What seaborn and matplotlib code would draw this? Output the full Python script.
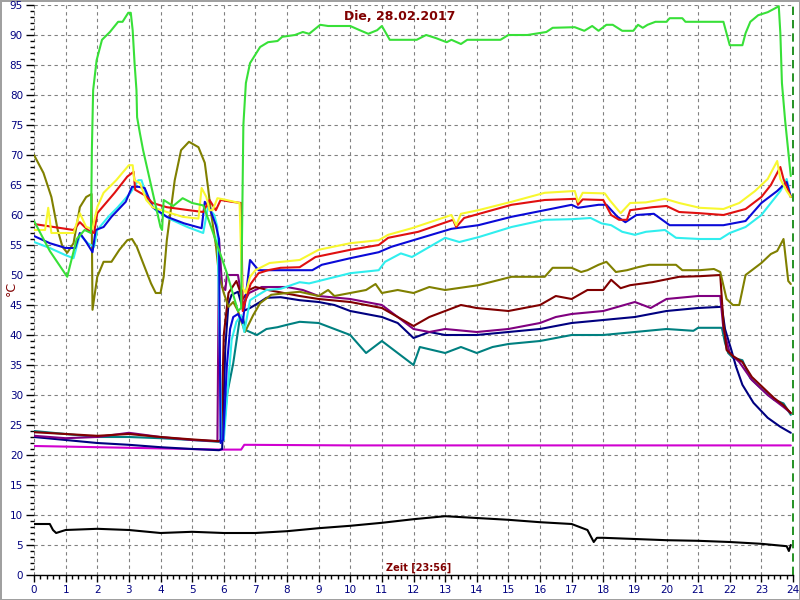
import pandas as pd
import matplotlib
matplotlib.use("Agg")
import matplotlib.pyplot as plt
import seaborn as sns
from matplotlib.ticker import MultipleLocator

# hour of day / temperature (deg C) per sensor
black_h = [0, 0.5, 0.6, 0.7, 1.0, 2.0, 3.0, 4.0, 5.0, 6.0, 7.0, 8.0, 9.0, 10.0, 11.0, 12.0, 13.0, 14.0, 15.0, 16.0,
           17.0, 17.5, 17.7, 17.8, 18.0, 19.0, 20.0, 21.0, 22.0, 23.0, 23.8, 23.87, 23.93]
black_t = [8.5, 8.5, 7.5, 7, 7.5, 7.7, 7.5, 7, 7.2, 7, 7, 7.3, 7.8, 8.2, 8.7, 9.3, 9.8, 9.5, 9.2, 8.8,
           8.5, 7.5, 5.5, 6.2, 6.2, 6, 5.8, 5.7, 5.5, 5.2, 4.8, 4, 5]

magenta_h = [0, 2, 4, 5.9, 6.55, 6.65, 10, 15, 20, 23.93]
magenta_t = [21.5, 21.3, 21.1, 20.9, 20.9, 21.7, 21.6, 21.6, 21.6, 21.6]

teal_h = [0, 1, 2, 3, 4, 5, 5.85, 5.98, 6.1, 6.3, 6.5, 6.6, 6.7, 6.83, 7.05, 7.35, 7.7, 8.0, 8.4, 9.0, 9.5, 10.0,
          10.5, 11.0, 11.5, 12.0, 12.2, 13.0, 13.5, 14.0, 14.5, 15.0, 16.0, 17.0, 18.0, 19.0, 20.0, 20.85, 21.0,
          21.75, 21.85, 21.95, 22.1, 22.4, 22.65, 23.05, 23.4, 23.7, 23.93]
teal_t = [24, 23.5, 23, 23, 22.8, 22.5, 22.2, 23, 30, 35.3, 42.5, 43, 40.8, 40.5, 40, 41, 41.3, 41.7, 42.2, 42, 41, 40,
          37, 39, 37, 35, 38, 37, 38, 37, 38, 38.5, 39, 40, 40, 40.5, 41, 40.7, 41.2,
          41.2, 38.7, 37, 36.2, 35.8, 32.8, 30.8, 29.2, 28.6, 26.7]

navy_h = [0, 1, 2, 3, 4, 5, 5.85, 5.95, 6.05, 6.15, 6.25, 6.45, 6.62, 6.83, 7.15, 7.35, 7.8, 8.4, 9.0, 9.5, 10.0,
          11.0, 11.5, 12.0, 12.5, 13.0, 14.0, 15.0, 16.0, 17.0, 18.0, 19.0, 20.0, 21.0, 21.75, 21.85, 22.05,
          22.2, 22.4, 22.75, 23.2, 23.6, 23.93]
navy_t = [23, 22.5, 22, 21.7, 21.3, 21, 20.8, 21, 38, 45.3, 46.7, 47.2, 44, 44.5, 45.5, 46.2, 46.3, 45.8, 45.5, 45, 44,
          43, 42, 39.5, 40.5, 40, 40, 40.5, 41, 42, 42.5, 43, 44, 44.5, 44.7, 41, 37.5,
          34.7, 31.7, 28.7, 26.2, 24.7, 23.7]

purple_h = [0, 1, 2, 3, 4, 5, 5.8, 5.85, 5.95, 6.05, 6.1, 6.45, 6.6, 6.8, 7.2, 8.0, 8.5, 9.0, 10.0, 11.0, 11.5,
            12.0, 12.5, 13.0, 14.0, 15.0, 16.0, 16.5, 17.0, 18.0, 19.0, 19.5, 20.0, 21.0, 21.7, 21.8, 22.0,
            22.3, 22.7, 23.2, 23.7, 23.93]
purple_t = [23.2, 22.8, 23, 23.7, 23, 22.5, 22.3, 56, 48, 47.5, 50, 50, 45, 47, 48, 48, 47.5, 46.5, 46, 45, 43,
            41, 40.5, 41, 40.5, 41, 42, 43, 43.5, 44, 45.5, 44.5, 46, 46.5, 46.5, 41, 37,
            35.5, 32.5, 30, 28, 27]

maroon_h = [0, 1, 2, 3, 4, 5, 5.85, 5.92, 6.0, 6.15, 6.4, 6.6, 6.8, 7.0, 7.4, 8.4, 9.0, 10.0, 11.0, 11.5, 12.0,
            12.5, 13.0, 13.5, 14.0, 15.0, 16.0, 16.5, 17.0, 17.5, 18.0, 18.25, 18.55, 18.85, 19.55, 20.4,
            21.05, 21.7, 21.8, 21.9, 22.1, 22.4, 22.7, 23.0, 23.4, 23.7, 23.93]
maroon_t = [23.8, 23.5, 23.2, 23.5, 23.0, 22.6, 22.3, 22.5, 40, 47, 49, 46, 47.5, 48, 47.5, 46.5, 46, 45.5, 44.5, 43,
            41.5, 43, 44, 45, 44.5, 44, 45, 46.5, 46, 47.5, 47.5, 49.2, 47.8, 48.3, 48.8, 49.7,
            49.8, 50, 42, 37.5, 36.5, 35.5, 33, 31.5, 29.5, 28.3, 27]

olive_h = [0, 0.3, 0.55, 0.75, 0.9, 1.05, 1.25, 1.45, 1.65, 1.82, 1.85, 2.0, 2.2, 2.45, 2.7, 2.95, 3.1, 3.25, 3.5,
           3.7, 3.85, 4.0, 4.1, 4.2, 4.45, 4.65, 4.9, 5.2, 5.4, 5.5, 5.6, 5.75, 5.85, 6.0, 6.15, 6.3, 6.45,
           6.67, 6.93, 7.15, 7.5, 8.0, 8.4, 9.0, 9.3, 9.5, 10.5, 10.8, 11.0, 11.5, 12.0, 12.5, 13.0, 14.05,
           15.1, 16.15, 16.4, 17.0, 17.3, 17.5, 17.85, 18.1, 18.4, 18.75, 19.1, 19.45, 20.3, 20.5, 21.05,
           21.5, 21.7, 21.9, 22.1, 22.3, 22.5, 23.0, 23.3, 23.5, 23.7, 23.85, 23.93]
olive_t = [70, 67, 63, 57.5, 54.7, 53.7, 55.3, 61.3, 63, 63.5, 44.2, 49.7, 52.2, 52.2, 54.2, 55.8, 56, 54.7, 51.3,
           48.6, 47, 47, 49.7, 55.8, 65.8, 70.8, 72.2, 71.3, 68.7, 64.7, 60.3, 55, 50, 47, 44.7, 45.5, 44,
           40.5, 43.3, 45.3, 46.7, 47, 47.2, 46.5, 47.5, 46.5, 47.5, 48.5, 47, 47.5, 47, 48, 47.5, 48.3,
           49.7, 49.7, 51.2, 51.2, 50.5, 50.8, 51.7, 52.2, 50.5, 50.8, 51.3, 51.7, 51.7, 50.8, 50.8,
           51, 50.5, 46, 45, 45, 50, 52, 53.5, 54, 56, 49, 48.5]

cyan_h = [0, 0.5, 1.0, 1.25, 1.45, 1.7, 1.9, 2.0, 2.35, 2.65, 3.05, 3.3, 3.4, 3.6, 3.85, 4.35, 4.85, 5.35, 5.5, 5.7,
          5.8, 5.93, 6.0, 6.15, 6.25, 6.4, 6.55, 6.65, 6.83, 7.1, 7.35, 7.8, 8.4, 8.7, 10.0, 10.9, 11.1, 11.6,
          11.95, 13.0, 13.45, 14.05, 15.1, 16.15, 17.0, 17.6, 17.95, 18.25, 18.6, 19.0, 19.35, 19.95, 20.3,
          21.05, 21.7, 22.0, 22.5, 23.0, 23.3, 23.6, 23.8, 23.93]
cyan_t = [55.5, 54.5, 53.3, 52.8, 56.7, 55.3, 54.7, 57.5, 59.7, 61.3, 63.7, 65.8, 65.8, 62.5, 60.8, 59.2, 58, 57, 61.3, 60,
          58, 22.5, 22.5, 32.5, 39.2, 42.2, 43.3, 40.5, 45.8, 46.7, 47.5, 47.7, 48.8, 48.6, 50.3, 50.8, 52.2, 53.6,
          53, 56.2, 55.5, 56.3, 58, 59.2, 59.3, 59.5, 58.6, 58.3, 57.2, 56.7, 57.2, 57.5, 56.2,
          56, 56, 57, 58, 60, 62, 64, 66, 63]

blue_h = [0, 0.5, 1.0, 1.3, 1.45, 1.65, 1.85, 1.95, 2.2, 2.45, 2.9, 3.1, 3.3, 3.5, 3.75, 4.2, 4.75, 5.3, 5.4, 5.55,
          5.75, 5.85, 5.9, 5.98, 6.1, 6.2, 6.3, 6.45, 6.6, 6.83, 7.1, 7.8, 8.8, 9.1, 10.0, 10.9, 11.3, 12.25,
          13.2, 14.05, 15.1, 16.15, 17.0, 17.2, 17.85, 18.1, 18.45, 18.7, 19.05, 19.6, 20.1, 21.05, 21.8,
          22.5, 23.0, 23.5, 23.8, 23.93]
blue_t = [56.5, 55.3, 54.5, 54.5, 57, 55.5, 53.8, 57.5, 58, 59.7, 62.2, 64.7, 64.7, 64.5, 61.3, 59.7, 58.6, 57.8, 62.2, 61.2,
          58.3, 56, 22, 22.5, 35, 41, 43, 43.5, 42, 52.5, 50.8, 50.8, 50.8, 51.7, 52.8, 53.8, 54.7, 56.2,
          57.7, 58.3, 59.7, 60.8, 61.7, 61.2, 61.7, 61.7, 59.7, 58.8, 60, 60.2, 58.3, 58.3, 58.3,
          59, 62, 64, 65.5, 63]

red_h = [0, 1.25, 1.45, 1.7, 1.9, 2.0, 2.55, 2.95, 3.15, 3.2, 3.5, 3.75, 4.2, 4.9, 5.35, 5.55, 5.75, 5.9, 6.25,
         6.55, 6.6, 6.7, 6.85, 7.1, 7.4, 7.8, 8.4, 8.9, 10.0, 10.9, 11.2, 12.15, 13.25, 13.35, 13.6, 15.1,
         16.15, 17.15, 17.2, 17.35, 18.0, 18.25, 18.5, 18.75, 18.85, 19.55, 20.0, 20.4, 21.05, 21.8, 22.5,
         23.0, 23.3, 23.6, 23.7, 23.93]
red_t = [58.5, 57.5, 58.8, 57.5, 57, 60.3, 63.7, 66.4, 67.2, 64.2, 63.3, 62, 61.3, 60.8, 60.5, 62.5, 60.8, 62.5, 62.2,
         62, 44, 46, 48.5, 50.3, 50.8, 51.2, 51.3, 53, 54.2, 55, 56.2, 57.2, 59.2, 58, 59.5, 61.7,
         62.5, 62.7, 61.7, 62.6, 62.5, 60, 59.2, 59.2, 60.8, 61.3, 61.5, 60.5, 60.3, 60, 61,
         63, 65, 68, 66, 63]

yellow_h = [0, 0.35, 0.45, 0.55, 1.25, 1.45, 1.65, 1.85, 2.0, 2.2, 2.6, 3.0, 3.12, 3.17, 3.35, 3.55, 3.75, 4.2,
            4.7, 5.2, 5.3, 5.45, 5.55, 5.65, 5.8, 6.0, 6.5, 6.58, 6.7, 6.83, 7.0, 7.45, 8.4, 9.0, 10.0, 10.9,
            11.2, 11.95, 13.2, 13.35, 13.5, 14.05, 15.1, 16.15, 17.1, 17.2, 17.35, 18.05, 18.2, 18.55, 18.85,
            19.35, 19.95, 20.4, 21.05, 21.8, 22.3, 22.8, 23.2, 23.5, 23.6, 23.8, 23.93]
yellow_t = [57.5, 57.5, 61.2, 57, 57, 60.3, 58, 57.7, 61.3, 63.7, 65.8, 68.3, 68.3, 65.8, 65.3, 62.5, 61.3, 60.5,
            59.7, 59.4, 64.5, 63, 60.8, 60.8, 62.8, 62.6, 62, 48, 47, 49.7, 50.8, 52, 52.5, 54.2, 55.3, 55.8,
            56.7, 57.8, 60, 58.3, 60.2, 60.8, 62.2, 63.7, 64, 62.2, 63.7, 63.6, 62.5, 60.3, 62,
            62.1, 62.7, 62, 61.2, 61, 62, 64, 66, 69, 66, 64, 63]

green_h = [0, 0.5, 1.05, 1.35, 1.6, 1.8, 1.83, 1.87, 1.98, 2.15, 2.4, 2.66, 2.8, 2.98, 3.06, 3.12, 3.18, 3.24,
           3.26, 3.35, 3.45, 4.0, 4.05, 4.1, 4.4, 4.7, 5.0, 5.35, 5.56, 6.1, 6.45, 6.55, 6.62, 6.7, 6.83,
           7.15, 7.4, 7.7, 7.85, 8.25, 8.5, 8.7, 9.05, 9.3, 10.0, 10.3, 10.57, 10.85, 11.0, 11.25, 12.1,
           12.4, 12.7, 13.05, 13.2, 13.5, 13.7, 14.75, 15.0, 15.6, 16.2, 16.4, 17.1, 17.4, 17.65, 17.85,
           18.1, 18.3, 18.6, 18.95, 19.1, 19.25, 19.4, 19.65, 20.0, 20.1, 20.5, 20.6, 21.4, 21.8, 22.0,
           22.4, 22.5, 22.65, 22.9, 23.2, 23.45, 23.55, 23.6, 23.65, 23.75, 23.93]
green_t = [59, 54, 49.7, 56, 57.5, 57, 70.8, 80.8, 85.8, 89.2, 90.5, 92.2, 92.2, 93.7, 93.7, 90.8, 85.3, 80.8,
           76.3, 73.6, 70.8, 58, 57.5, 62.5, 61.5, 62.8, 62, 61.6, 58.6, 50.3, 44, 44.5, 75, 82, 85.3,
           88, 88.8, 89, 89.7, 90, 90.5, 90.2, 91.7, 91.5, 91.5, 90.8, 90.2, 90.8, 91.5, 89.2, 89.2,
           90, 89.5, 88.8, 89.2, 88.5, 89.2, 89.2, 90, 90, 90.5, 91.2, 91.3, 90.7, 91.5, 90.7,
           91.7, 91.7, 90.7, 90.7, 91.7, 91.2, 91.7, 92.2, 92.2, 92.8, 92.8, 92.2, 92.2, 92.2, 88.3,
           88.3, 90.3, 92.2, 93.3, 93.8, 94.5, 94.8, 90.3, 82, 75.8, 66.5]

series = {
    "black": (black_h, black_t),
    "magenta": (magenta_h, magenta_t),
    "teal": (teal_h, teal_t),
    "navy": (navy_h, navy_t),
    "purple": (purple_h, purple_t),
    "maroon": (maroon_h, maroon_t),
    "olive": (olive_h, olive_t),
    "cyan": (cyan_h, cyan_t),
    "blue": (blue_h, blue_t),
    "red": (red_h, red_t),
    "yellow": (yellow_h, yellow_t),
    "green": (green_h, green_t),
}
palette = {
    "black": "#000000", "magenta": "#d000d0", "teal": "#008080", "navy": "#000080",
    "purple": "#800080", "maroon": "#800000", "olive": "#808000", "cyan": "#30eeee",
    "blue": "#0a0ad8", "red": "#e01010", "yellow": "#f8f830", "green": "#38e038",
}

rows = []
for name, (hh, tt) in series.items():
    for i, (h, t) in enumerate(zip(hh, tt)):
        rows.append({"sensor": name, "order": i, "hour": h, "temp": t})
df = pd.DataFrame(rows)

sns.set_style("white")
plt.rcParams['font.family'] = ['DejaVu Sans']

fig = plt.figure(figsize=(8, 6), dpi=100)
fig.patch.set_edgecolor('#a0a0a0')
fig.patch.set_linewidth(2)
ax = fig.add_axes([34 / 800, 25 / 600, 759 / 800, 570 / 600])

sns.lineplot(data=df, x="hour", y="temp", hue="sensor", hue_order=list(series.keys()),
             palette=palette, estimator=None, sort=False, units="sensor",
             linewidth=1.5, legend=False, ax=ax)

ax.set_xlim(0, 24)
ax.set_ylim(0, 95)
ax.xaxis.set_major_locator(MultipleLocator(1))
ax.xaxis.set_minor_locator(MultipleLocator(0.2))
ax.yaxis.set_major_locator(MultipleLocator(5))
ax.yaxis.set_minor_locator(MultipleLocator(1))
ax.grid(which='major', color='#808080', linestyle=(0, (3, 3)), linewidth=0.8)
ax.set_axisbelow(True)

for s in ['top', 'right', 'left']:
    ax.spines[s].set_visible(False)
ax.spines['bottom'].set_color('black')
ax.spines['bottom'].set_linewidth(1)

ax.tick_params(axis='both', which='both', direction='out', colors='black', labelcolor='#000080', labelsize=7.5)
ax.tick_params(axis='x', which='major', length=5, width=1, pad=2)
ax.tick_params(axis='x', which='minor', length=3, width=1)
ax.tick_params(axis='y', which='major', length=6, width=1, pad=2)
ax.tick_params(axis='y', which='minor', length=3, width=1)
ax.tick_params(left=True, bottom=True, which='both')

ax.axvline(24, color='#008000', linestyle=(0, (5, 3)), linewidth=1.2, clip_on=False)

ax.set_xlabel("")
ax.set_ylabel("")
fig.text(11 / 800, 0.52, "°C", rotation=90, ha='center', va='center', color='#800000', fontsize=9)
ax.text(0.507, 0.003, "Zeit [23:56]", transform=ax.transAxes, ha='center', va='bottom',
        color='#800000', fontsize=7, fontweight='bold')
ax.text(0.482, 0.979, "Die, 28.02.2017", transform=ax.transAxes, ha='center', va='center',
        color='#800000', fontsize=9, fontweight='bold')

plt.savefig("out.png", dpi=100)
plt.close()
